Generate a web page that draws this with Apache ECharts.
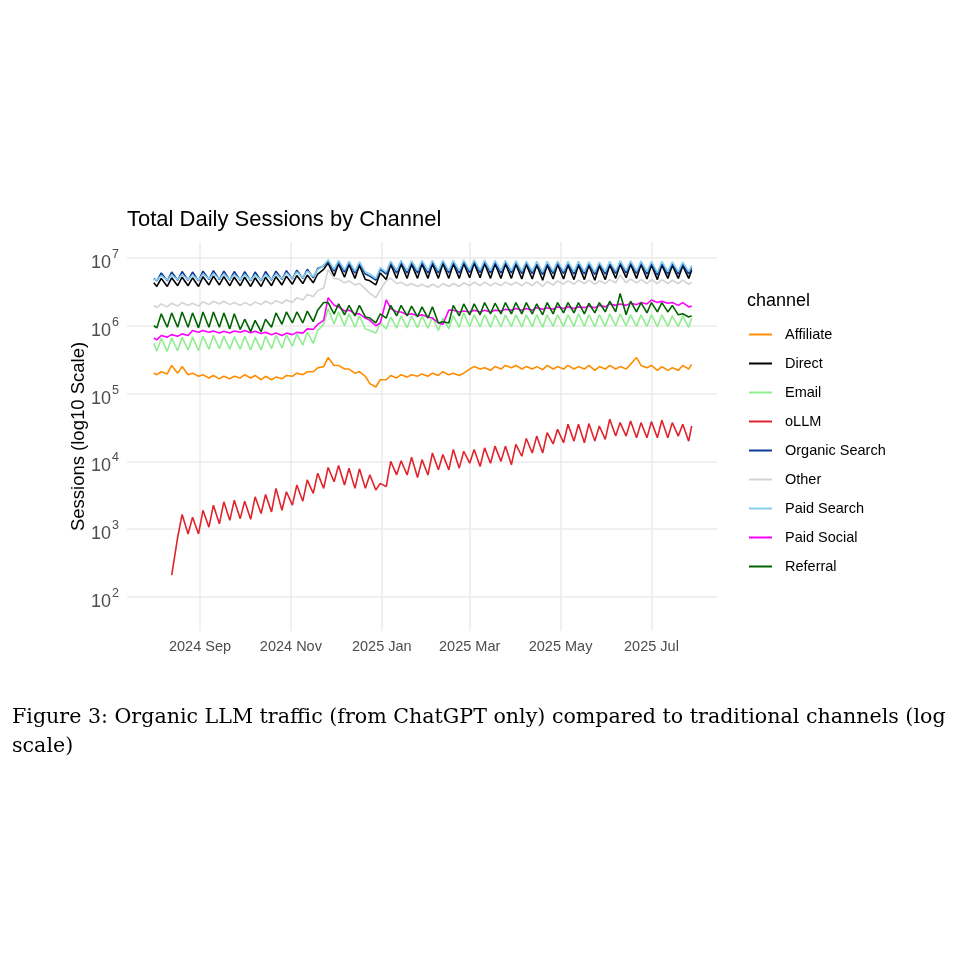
<!DOCTYPE html>
<html>
<head>
<meta charset="utf-8">
<script src="https://cdn.jsdelivr.net/npm/echarts@6/dist/echarts.min.js"></script>
<style>
  html, body { margin: 0; padding: 0; background: #fff; }
  #main { width: 960px; height: 960px; }
</style>
</head>
<body>
<div id="main"></div>
<script>
// dates: weekly troughs (Sat) and peaks (Tue)
const dates = [
  '2024-08-01','2024-08-03','2024-08-06','2024-08-10','2024-08-13','2024-08-17','2024-08-20','2024-08-24','2024-08-27','2024-08-31',
  '2024-09-03','2024-09-07','2024-09-10','2024-09-14','2024-09-17','2024-09-21','2024-09-24','2024-09-28',
  '2024-10-01','2024-10-05','2024-10-08','2024-10-12','2024-10-15','2024-10-19','2024-10-22','2024-10-26','2024-10-29',
  '2024-11-02','2024-11-05','2024-11-09','2024-11-12','2024-11-16','2024-11-19','2024-11-23','2024-11-26','2024-11-30',
  '2024-12-03','2024-12-07','2024-12-10','2024-12-14','2024-12-17','2024-12-21','2024-12-24','2024-12-28','2024-12-31',
  '2025-01-04','2025-01-07','2025-01-11','2025-01-14','2025-01-18','2025-01-21','2025-01-25','2025-01-28',
  '2025-02-01','2025-02-04','2025-02-08','2025-02-11','2025-02-15','2025-02-18','2025-02-22','2025-02-25',
  '2025-03-01','2025-03-04','2025-03-08','2025-03-11','2025-03-15','2025-03-18','2025-03-22','2025-03-25','2025-03-29',
  '2025-04-01','2025-04-05','2025-04-08','2025-04-12','2025-04-15','2025-04-19','2025-04-22','2025-04-26','2025-04-29',
  '2025-05-03','2025-05-06','2025-05-10','2025-05-13','2025-05-17','2025-05-20','2025-05-24','2025-05-27','2025-05-31',
  '2025-06-03','2025-06-07','2025-06-10','2025-06-14','2025-06-17','2025-06-21','2025-06-24','2025-06-28',
  '2025-07-01','2025-07-05','2025-07-08','2025-07-12','2025-07-15','2025-07-19','2025-07-22','2025-07-26','2025-07-28'
];

const affiliate = [
  2.0e5,1.9e5,2.1e5,1.95e5,2.6e5,2.0e5,2.5e5,1.9e5,2.0e5,1.8e5,
  1.9e5,1.7e5,1.85e5,1.65e5,1.8e5,1.65e5,1.8e5,1.7e5,
  1.9e5,1.7e5,1.85e5,1.6e5,1.8e5,1.6e5,1.75e5,1.65e5,1.85e5,
  1.8e5,2.0e5,1.9e5,2.1e5,2.1e5,2.4e5,2.5e5,3.4e5,2.6e5,
  2.6e5,2.3e5,2.3e5,2.0e5,2.1e5,1.8e5,1.4e5,1.25e5,1.6e5,
  1.6e5,1.85e5,1.7e5,1.9e5,1.75e5,1.9e5,1.8e5,1.95e5,
  1.8e5,2.0e5,1.85e5,2.1e5,1.9e5,2.0e5,1.85e5,2.0e5,
  2.3e5,2.5e5,2.3e5,2.4e5,2.2e5,2.5e5,2.3e5,2.6e5,2.4e5,
  2.6e5,2.3e5,2.5e5,2.3e5,2.5e5,2.25e5,2.6e5,2.3e5,2.5e5,
  2.3e5,2.6e5,2.3e5,2.5e5,2.3e5,2.6e5,2.2e5,2.5e5,2.3e5,
  2.6e5,2.3e5,2.5e5,2.3e5,2.7e5,3.4e5,2.6e5,2.4e5,
  2.6e5,2.2e5,2.5e5,2.2e5,2.4e5,2.2e5,2.6e5,2.3e5,2.7e5
];

const direct = [
  4.3e6,3.8e6,5.0e6,3.8e6,5.1e6,3.9e6,5.2e6,3.9e6,5.1e6,3.8e6,
  5.3e6,4.0e6,5.4e6,4.0e6,5.3e6,3.9e6,5.2e6,3.9e6,
  5.2e6,3.8e6,5.1e6,3.8e6,5.2e6,3.9e6,5.3e6,4.0e6,5.4e6,
  4.1e6,5.5e6,4.2e6,5.6e6,4.3e6,5.8e6,6.8e6,8.4e6,5.4e6,
  8.2e6,5.2e6,8.0e6,5.0e6,7.8e6,4.8e6,4.6e6,4.0e6,6.0e6,
  4.8e6,8.0e6,5.0e6,8.2e6,5.0e6,8.1e6,5.0e6,8.2e6,
  5.0e6,8.2e6,5.0e6,8.3e6,5.0e6,8.2e6,5.0e6,8.3e6,
  5.1e6,8.4e6,5.1e6,8.3e6,5.0e6,8.2e6,5.0e6,8.2e6,5.0e6,
  8.1e6,4.9e6,8.0e6,4.9e6,7.9e6,4.7e6,7.9e6,4.9e6,8.0e6,
  4.9e6,7.9e6,4.8e6,7.9e6,4.8e6,7.8e6,4.7e6,7.7e6,4.8e6,
  7.9e6,5.0e6,8.1e6,5.1e6,8.1e6,5.0e6,8.0e6,4.9e6,
  7.9e6,4.8e6,7.9e6,5.0e6,7.8e6,5.0e6,7.7e6,5.0e6,6.6e6
];

const email = [
  0.55e6,0.42e6,0.65e6,0.42e6,0.66e6,0.43e6,0.68e6,0.44e6,0.68e6,0.43e6,
  0.7e6,0.45e6,0.72e6,0.46e6,0.7e6,0.45e6,0.69e6,0.45e6,
  0.7e6,0.44e6,0.68e6,0.44e6,0.7e6,0.46e6,0.72e6,0.47e6,0.74e6,
  0.5e6,0.76e6,0.52e6,0.8e6,0.55e6,0.85e6,1.05e6,1.8e6,1.05e6,
  1.6e6,1.0e6,1.5e6,0.95e6,1.4e6,0.9e6,0.85e6,0.78e6,1.1e6,
  0.9e6,1.35e6,0.92e6,1.4e6,0.93e6,1.4e6,0.93e6,1.4e6,
  0.92e6,1.35e6,0.85e6,1.3e6,0.9e6,1.4e6,0.95e6,1.55e6,
  0.97e6,1.45e6,0.96e6,1.45e6,0.95e6,1.45e6,0.96e6,1.45e6,0.97e6,
  1.45e6,0.96e6,1.45e6,0.97e6,1.45e6,0.95e6,1.45e6,0.98e6,1.45e6,
  0.98e6,1.45e6,0.98e6,1.5e6,0.98e6,1.45e6,0.97e6,1.45e6,0.98e6,
  1.5e6,1.0e6,1.5e6,1.0e6,1.45e6,0.98e6,1.45e6,0.98e6,
  1.45e6,0.97e6,1.45e6,0.98e6,1.4e6,0.97e6,1.4e6,0.95e6,1.3e6
];

const ollm = [
  null,null,null,null,210,760,1650,850,1500,850,
  1900,1070,2260,1200,2530,1350,2680,1430,
  2590,1400,3000,1700,3250,1800,4000,1900,3570,
  2260,4490,2590,5330,3370,6700,4000,8130,5000,
  8720,4490,7940,4000,7770,4000,6330,3780,4740,
  4240,10000,6330,10200,6300,11500,5770,10600,
  6300,13300,7500,12600,7500,15000,7950,14100,
  9400,15000,8400,15800,9400,16800,10000,16800,8900,
  17800,11900,21800,13300,23600,13300,26500,18100,29700,
  18800,35300,19900,35300,18800,36100,19900,33300,21100,
  41900,23600,37300,23600,39500,22300,37300,22300,
  38600,22300,40500,22300,37300,23600,35300,19900,33300
];

const organicSearch = [
  5.0e6,4.6e6,6.0e6,4.6e6,6.2e6,4.7e6,6.3e6,4.7e6,6.2e6,4.6e6,
  6.4e6,4.8e6,6.5e6,4.8e6,6.4e6,4.7e6,6.3e6,4.7e6,
  6.3e6,4.6e6,6.2e6,4.6e6,6.3e6,4.7e6,6.4e6,4.8e6,6.5e6,
  4.9e6,6.6e6,5.0e6,6.8e6,5.1e6,7.0e6,7.6e6,9.0e6,6.4e6,
  8.8e6,6.2e6,8.6e6,6.0e6,8.4e6,5.8e6,5.4e6,4.7e6,6.8e6,
  5.8e6,8.6e6,6.0e6,8.7e6,6.0e6,8.6e6,6.0e6,8.7e6,
  6.0e6,8.7e6,6.0e6,8.8e6,6.0e6,8.7e6,6.0e6,8.8e6,
  6.1e6,8.9e6,6.1e6,8.8e6,6.0e6,8.7e6,6.0e6,8.7e6,6.0e6,
  8.6e6,5.9e6,8.5e6,5.9e6,8.4e6,5.7e6,8.4e6,5.9e6,8.5e6,
  5.9e6,8.4e6,5.8e6,8.4e6,5.8e6,8.3e6,5.7e6,8.2e6,5.8e6,
  8.4e6,5.9e6,8.6e6,6.0e6,8.6e6,5.9e6,8.5e6,5.8e6,
  8.4e6,5.6e6,8.4e6,5.8e6,8.3e6,5.8e6,8.2e6,5.8e6,7.2e6
];

const other = [
  2.0e6,1.85e6,2.1e6,1.9e6,2.15e6,1.95e6,2.2e6,2.0e6,2.15e6,1.95e6,
  2.25e6,2.05e6,2.3e6,2.1e6,2.3e6,2.05e6,2.2e6,2.0e6,
  2.2e6,2.0e6,2.25e6,2.05e6,2.3e6,2.1e6,2.35e6,2.15e6,2.4e6,
  2.2e6,2.6e6,2.4e6,2.9e6,2.7e6,3.3e6,3.6e6,6.8e6,5.0e6,
  4.9e6,4.3e6,4.6e6,4.0e6,4.2e6,3.5e6,3.0e6,2.6e6,3.4e6,
  4.6e6,5.0e6,4.2e6,4.4e6,3.9e6,4.2e6,3.8e6,4.1e6,
  3.7e6,4.1e6,3.7e6,4.2e6,3.8e6,4.2e6,3.8e6,4.3e6,
  3.9e6,4.4e6,3.9e6,4.4e6,3.9e6,4.3e6,3.9e6,4.4e6,4.0e6,
  4.4e6,3.9e6,4.4e6,3.9e6,4.5e6,3.8e6,4.5e6,4.0e6,4.6e6,
  4.1e6,4.6e6,4.1e6,4.7e6,4.2e6,4.7e6,4.1e6,4.6e6,4.2e6,
  4.8e6,4.3e6,5.6e6,4.3e6,4.9e6,4.3e6,4.8e6,4.2e6,
  4.8e6,4.2e6,4.8e6,4.2e6,4.7e6,4.2e6,4.7e6,4.1e6,4.4e6
];

const paidSearch = [
  4.9e6,4.7e6,5.5e6,4.7e6,5.6e6,4.8e6,5.7e6,4.8e6,5.6e6,4.7e6,
  5.8e6,4.9e6,5.9e6,4.9e6,5.8e6,4.8e6,5.7e6,4.8e6,
  5.7e6,4.7e6,5.6e6,4.7e6,5.7e6,4.8e6,5.8e6,4.9e6,6.0e6,
  5.0e6,6.2e6,5.1e6,6.4e6,5.3e6,6.7e6,7.8e6,9.4e6,6.8e6,
  9.2e6,6.6e6,9.0e6,6.4e6,8.8e6,6.2e6,5.8e6,5.0e6,7.2e6,
  6.2e6,9.0e6,6.5e6,9.2e6,6.5e6,9.1e6,6.5e6,9.2e6,
  6.5e6,9.2e6,6.5e6,9.3e6,6.5e6,9.2e6,6.5e6,9.3e6,
  6.6e6,9.4e6,6.6e6,9.3e6,6.5e6,9.2e6,6.5e6,9.2e6,6.5e6,
  9.1e6,6.4e6,9.0e6,6.4e6,8.9e6,6.2e6,8.9e6,6.4e6,9.0e6,
  6.4e6,8.9e6,6.3e6,8.9e6,6.3e6,8.8e6,6.2e6,8.7e6,6.3e6,
  8.9e6,6.4e6,9.1e6,6.5e6,9.1e6,6.4e6,9.0e6,6.3e6,
  8.9e6,6.1e6,8.9e6,6.3e6,8.8e6,6.3e6,8.7e6,6.3e6,7.8e6
];

const paidSocial = [
  0.66e6,0.62e6,0.72e6,0.68e6,0.74e6,0.7e6,0.76e6,0.72e6,0.85e6,0.8e6,
  0.85e6,0.8e6,0.84e6,0.78e6,0.83e6,0.78e6,0.84e6,0.8e6,
  0.85e6,0.79e6,0.83e6,0.77e6,0.8e6,0.74e6,0.78e6,0.72e6,0.78e6,
  0.74e6,0.8e6,0.78e6,0.9e6,0.88e6,1.05e6,1.2e6,2.6e6,2.0e6,
  1.9e6,1.65e6,1.7e6,1.5e6,1.5e6,1.3e6,1.2e6,1.0e6,1.1e6,
  2.4e6,1.8e6,1.6e6,1.6e6,1.45e6,1.5e6,1.4e6,1.45e6,
  1.35e6,1.3e6,1.1e6,1.05e6,1.7e6,1.7e6,1.6e6,1.65e6,
  1.6e6,1.7e6,1.6e6,1.7e6,1.6e6,1.7e6,1.65e6,1.75e6,1.7e6,
  1.8e6,1.7e6,1.8e6,1.7e6,1.85e6,1.75e6,1.85e6,1.75e6,1.9e6,
  1.8e6,1.9e6,1.8e6,1.9e6,1.85e6,1.95e6,1.85e6,2.0e6,1.9e6,
  2.1e6,2.0e6,2.1e6,2.0e6,2.15e6,2.05e6,2.2e6,2.1e6,
  2.4e6,2.2e6,2.3e6,2.15e6,2.2e6,2.0e6,2.2e6,1.9e6,1.95e6
];

const referral = [
  1.0e6,0.93e6,1.5e6,0.95e6,1.55e6,0.95e6,1.6e6,0.95e6,1.55e6,0.93e6,
  1.6e6,0.95e6,1.6e6,0.95e6,1.55e6,0.9e6,1.5e6,0.88e6,
  1.25e6,0.82e6,1.2e6,0.82e6,1.25e6,0.95e6,1.55e6,1.05e6,1.6e6,
  1.1e6,1.6e6,1.1e6,1.65e6,1.15e6,1.7e6,2.2e6,2.2e6,1.5e6,
  2.1e6,1.45e6,2.0e6,1.4e6,2.0e6,1.35e6,1.3e6,1.1e6,1.5e6,
  1.3e6,2.0e6,1.4e6,2.0e6,1.4e6,1.95e6,1.35e6,1.9e6,
  1.3e6,1.9e6,1.1e6,1.15e6,1.1e6,2.0e6,1.4e6,2.1e6,
  1.45e6,2.1e6,1.45e6,2.2e6,1.5e6,2.15e6,1.5e6,2.2e6,1.5e6,
  2.2e6,1.5e6,2.2e6,1.5e6,2.1e6,1.45e6,2.2e6,1.5e6,2.2e6,
  1.55e6,2.2e6,1.55e6,2.2e6,1.5e6,2.15e6,1.55e6,2.2e6,1.6e6,
  2.3e6,1.6e6,3.0e6,1.45e6,2.3e6,1.6e6,2.2e6,1.55e6,
  2.2e6,1.6e6,2.2e6,1.6e6,2.0e6,1.45e6,1.5e6,1.35e6,1.4e6
];

const channels = ['Affiliate','Direct','Email','oLLM','Organic Search','Other','Paid Search','Paid Social','Referral'];
const channelValues = [affiliate, direct, email, ollm, organicSearch, other, paidSearch, paidSocial, referral];
const channelColors = ['#FF8C00','#000000','#90EE90','#E0242B','#0E3A96','#D3D3D3','#87CEEB','#FF00FF','#006400'];

const xTickDates = ['2024-09-01','2024-11-01','2025-01-01','2025-03-01','2025-05-01','2025-07-01'];
const xRange = ['2024-07-14', '2025-08-14'];
const yTicks = [1e2, 1e3, 1e4, 1e5, 1e6, 1e7];
const monthNames = ['Jan','Feb','Mar','Apr','May','Jun','Jul','Aug','Sep','Oct','Nov','Dec'];

function toTime(s) {
  const p = s.split('-');
  return new Date(+p[0], +p[1] - 1, +p[2]).getTime();
}
const xTicks = xTickDates.map(toTime);

const chart = echarts.init(document.getElementById('main'));

const series = channels.map(function (name, i) {
  return {
    name: name,
    type: 'line',
    symbol: 'none',
    lineStyle: { width: 1.6, color: channelColors[i] },
    itemStyle: { color: channelColors[i] },
    data: dates.map(function (d, j) { return [toTime(d), channelValues[i][j]]; })
  };
});

const option = {
  animation: false,
  backgroundColor: '#ffffff',
  textStyle: { fontFamily: 'Liberation Sans, Arial, sans-serif' },
  title: [
    {
      text: 'Total Daily Sessions by Channel',
      left: 122, top: 204,
      textStyle: { fontSize: 22, fontWeight: 'normal', color: '#000' }
    },
    {
      text: 'channel',
      left: 742, top: 287,
      textStyle: { fontSize: 18, fontWeight: 'normal', color: '#000' }
    }
  ],
  grid: { left: 127, right: 243, top: 242, bottom: 329, containLabel: false },
  legend: {
    orient: 'vertical',
    left: 744, top: 322,
    icon: 'rect',
    itemWidth: 23, itemHeight: 2, itemGap: 14,
    textStyle: { fontSize: 14.5, lineHeight: 14, color: '#000', padding: [0, 0, 0, 8] },
    data: channels
  },
  xAxis: {
    type: 'value',
    min: toTime(xRange[0]), max: toTime(xRange[1]),
    axisLine: { show: false },
    axisTick: { show: false, customValues: xTicks },
    axisLabel: {
      customValues: xTicks,
      margin: 8, fontSize: 14.5, color: '#4D4D4D',
      formatter: function (v) {
        const d = new Date(v);
        return d.getFullYear() + ' ' + monthNames[d.getMonth()];
      }
    },
    splitLine: { show: true, lineStyle: { color: '#EBEBEB', width: 1.5 } }
  },
  yAxis: {
    type: 'log', logBase: 10,
    min: 31.5, max: 1.72e7,
    name: 'Sessions (log10 Scale)',
    nameLocation: 'middle', nameGap: 39,
    nameMoveOverlap: false,
    nameRotate: 90,
    nameTextStyle: { fontSize: 18.5, color: '#000' },
    axisLine: { show: false },
    axisTick: { show: false, customValues: yTicks },
    axisLabel: {
      customValues: yTicks,
      margin: 8,
      formatter: function (v) {
        return '{b|10}{s|' + Math.round(Math.log10(v)) + '}';
      },
      rich: {
        b: { fontSize: 18, color: '#4D4D4D', lineHeight: 20, padding: [10, 0, 0, 0] },
        s: { fontSize: 12.5, color: '#4D4D4D', lineHeight: 14, padding: [0, 0, 0, 1], verticalAlign: 'top' }
      }
    },
    splitLine: { show: true, lineStyle: { color: '#EBEBEB', width: 1.5 } }
  },
  graphic: [
    {
      type: 'text', left: 12, top: 703,
      style: {
        text: 'Figure 3: Organic LLM traffic (from ChatGPT only) compared to traditional channels (log\nscale)',
        font: '20.6px "DejaVu Serif", serif',
        fill: '#000', lineHeight: 29
      }
    }
  ],
  series: series
};

chart.setOption(option);
</script>
</body>
</html>
